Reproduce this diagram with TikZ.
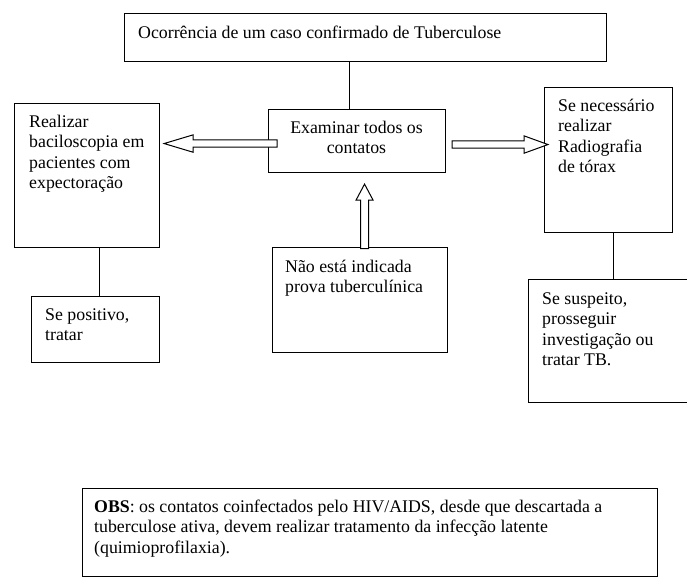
\documentclass[tikz,border=0pt]{standalone}
\usepackage{fontspec}
\setmainfont{Liberation Serif}
\usetikzlibrary{calc}
\begin{document}
\begin{tikzpicture}[x=1pt,y=-1pt,
  box/.style={draw=black, line width=1.1pt, rectangle, inner sep=0pt, anchor=north west},
  txt/.style={inner sep=0pt, anchor=north west, align=left, font=\fontsize{17.8}{20.5}\selectfont},
  ln/.style={draw=black, line width=1.1pt},
  barrow/.style={draw=black, fill=white, line width=1pt, line join=miter}]
\useasboundingbox (0,0) rectangle (687,580);
\clip (0,0) rectangle (687,580);
% boxes
\node[box, minimum width=482pt, minimum height=48pt] (top) at (124,13) {};
\node[box, minimum width=177pt, minimum height=63pt] (exam) at (268,109) {};
\node[box, minimum width=145pt, minimum height=144pt] (left) at (14,103) {};
\node[box, minimum width=128pt, minimum height=66pt] (pos) at (31,296) {};
\node[box, minimum width=128pt, minimum height=145pt] (right) at (544,87) {};
\node[box, minimum width=162pt, minimum height=123pt] (susp) at (528,279) {};
\node[box, minimum width=175pt, minimum height=105pt] (mid) at (272,247) {};
\node[box, minimum width=575pt, minimum height=88pt] (obs) at (82,488) {};
% texts
\node[txt] (top-t) at (138,23.65) {\strut Ocorrência de um caso confirmado de Tuberculose};
\node[txt, anchor=north, align=center] (exam-t) at (356.5,118.65) {\strut Examinar todos os\\contatos};
\node[txt] (left-t) at (29,112.65) {\strut Realizar\\baciloscopia em\\pacientes com\\expectoração};
\node[txt] (pos-t) at (45,305.65) {\strut Se positivo,\\tratar};
\node[txt] (right-t) at (558,96.65) {\strut Se necessário\\realizar\\Radiografia\\de tórax};
\node[txt] (susp-t) at (542,289.65) {\strut Se suspeito,\\prosseguir\\investigação ou\\tratar TB.};
\node[txt] (mid-t) at (285,257.65) {\strut Não está indicada\\prova tuberculínica};
\node[txt] (obs-t) at (94,497.65) {\strut\textbf{OBS}: os contatos coinfectados pelo HIV/AIDS, desde que descartada a\\tuberculose ativa, devem realizar tratamento da infecção latente\\(quimioprofilaxia).};
% plain connectors
\coordinate (c1) at ($(exam.north)+(-7.5,0)$);
\draw[ln] (c1) -- (c1 |- top.south);
\coordinate (c2) at ($(pos.north)+(4,0)$);
\draw[ln] (c2) -- (c2 |- left.south);
\coordinate (c3) at ($(right.south)+(5,0)$);
\draw[ln] (c3) -- (c3 |- susp.north);
% block arrows
\coordinate (latip) at ($(left.east |- exam.west)+(4,2.5)$);
\draw[barrow] (latip) -- ++(29,-8.7) -- ++(0,5.05) -- ++(84,0) -- ++(0,7.3) -- ++(-84,0) -- ++(0,5.05) -- cycle;
\coordinate (ratip) at ($(right.west |- exam.east)+(4,3.5)$);
\draw[barrow] (ratip) -- ++(-24,-8.7) -- ++(0,5.05) -- ++(-72,0) -- ++(0,7.3) -- ++(72,0) -- ++(0,5.05) -- cycle;
\coordinate (uatip) at ($(exam.south)+(7.5,11)$);
\draw[barrow] (uatip) -- ++(8.5,16) -- ++(-4.5,0) -- ++(0,48.5) -- ++(-8,0) -- ++(0,-48.5) -- ++(-4.5,0) -- cycle;
\end{tikzpicture}
\end{document}
